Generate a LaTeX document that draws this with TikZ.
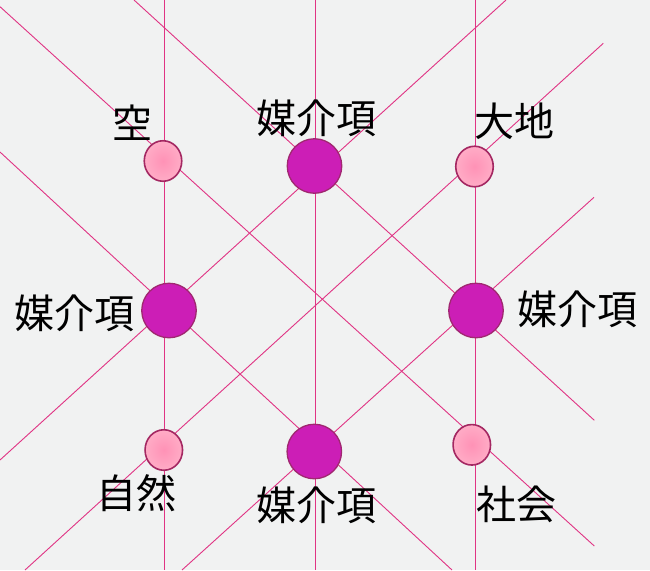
\documentclass[tikz,border=0pt]{standalone}
\usepackage{fontspec}
\usetikzlibrary{shapes.geometric}
\newfontfamily\cjk{Noto Sans CJK JP}
\definecolor{bg}{HTML}{F1F2F2}
\definecolor{linec}{HTML}{E03484}
\definecolor{bigfill}{HTML}{CC1EB6}
\definecolor{bigdraw}{HTML}{A02870}
\definecolor{smalldraw}{HTML}{A42862}
\definecolor{pkin}{HTML}{FF92B6}
\definecolor{pkout}{HTML}{FFC6D6}
\pgfdeclareradialshading{pinkball}{\pgfpoint{0bp}{0bp}}{color(0bp)=(pkin); color(50bp)=(pkout)}
\begin{document}
\begin{tikzpicture}[x=1pt,y=-1pt,
  lattice/.style={draw=linec, line width=0.9pt},
  bignode/.style={circle, fill=bigfill, draw=bigdraw, line width=1.3pt, minimum size=54.5pt, inner sep=0pt},
  smallnode/.style={ellipse, shading=pinkball, draw=smalldraw, line width=1.6pt, minimum width=37.5pt, minimum height=40.5pt, inner sep=0pt},
  lbl/.style={font=\cjk\fontsize{40}{40}\selectfont, inner sep=0pt, text=black}]
\fill[bg] (0,0) rectangle (650,570);
\useasboundingbox (0,0) rectangle (650,570);
% end points of the lattice lines
\coordinate (v1t) at (164.6,0);   \coordinate (v1b) at (164.6,570);
\coordinate (v2t) at (315.1,0);   \coordinate (v2b) at (315.1,570);
\coordinate (v3t) at (475.1,0);   \coordinate (v3b) at (475.1,570);
\coordinate (a1s) at (0,6.7);     \coordinate (a1e) at (594.3,546);
\coordinate (a2s) at (134,0);     \coordinate (a2e) at (594.3,420.3);
\coordinate (a3s) at (0,152);     \coordinate (a3e) at (452,570);
\coordinate (b1s) at (0,460);     \coordinate (b1e) at (506,0);
\coordinate (b2s) at (25,570);    \coordinate (b2e) at (603.3,43.3);
\coordinate (b3s) at (182,570);   \coordinate (b3e) at (594,197.3);
\draw[lattice] (v1t) -- (v1b);
\draw[lattice] (v2t) -- (v2b);
\draw[lattice] (v3t) -- (v3b);
\draw[lattice] (a1s) -- (a1e);
\draw[lattice] (a2s) -- (a2e);
\draw[lattice] (a3s) -- (a3e);
\draw[lattice] (b1s) -- (b1e);
\draw[lattice] (b2s) -- (b2e);
\draw[lattice] (b3s) -- (b3e);
% nodes
\node[smallnode] (sora)   at (163,161) {};
\node[bignode]   (mtop)   at (314.5,166) {};
\node[smallnode] (daichi) at (474.5,166.5) {};
\node[bignode]   (mleft)  at (169,310.5) {};
\node[bignode]   (mright) at (476,310.5) {};
\node[smallnode] (shizen) at (163.8,450) {};
\node[bignode]   (mbot)   at (314.3,451.5) {};
\node[smallnode] (shakai) at (471.8,444.8) {};
% labels
\node[lbl] (lsora)   at (132,122.5) {空};
\node[lbl] (lmtop)   at (316.5,118.5) {媒介項};
\node[lbl] (ldaichi) at (514.5,121) {大地};
\node[lbl] (lmleft)  at (74.5,313) {媒介項};
\node[lbl] (lmright) at (577,309) {媒介項};
\node[lbl] (lshizen) at (136,493) {自然};
\node[lbl] (lmbot)   at (316,505) {媒介項};
\node[lbl] (lshakai) at (516,504.5) {社会};
\end{tikzpicture}
\end{document}
